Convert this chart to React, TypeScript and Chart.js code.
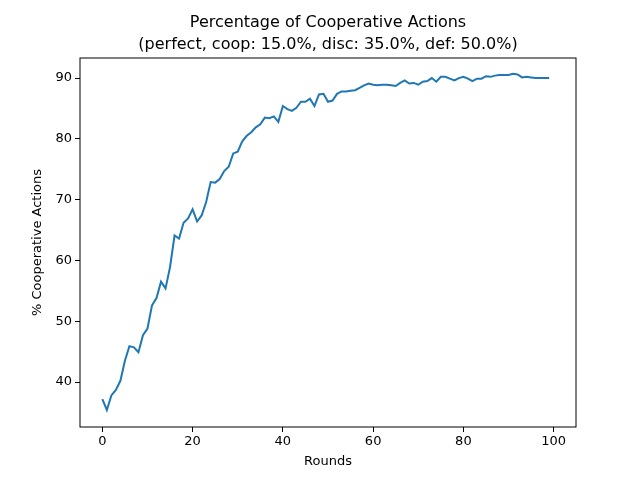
import React, { useEffect, useRef } from "react";
import { Chart, registerables } from "chart.js";
Chart.register(...registerables);

const rounds: number[] = Array.from({ length: 100 }, (_, i) => i);
const coop: number[] = [
  37.2, 35.4, 37.8, 38.7, 40.2, 43.5, 45.9, 45.7, 44.9, 47.7,
  48.8, 52.6, 53.8, 56.5, 55.4, 58.9, 64.1, 63.6, 66.2, 66.9,
  68.4, 66.4, 67.4, 69.6, 72.9, 72.8, 73.4, 74.7, 75.4, 77.6,
  77.9, 79.6, 80.5, 81.1, 81.9, 82.4, 83.5, 83.4, 83.7, 82.8,
  85.4, 84.9, 84.6, 85.1, 86.1, 86.1, 86.6, 85.4, 87.3, 87.4,
  86.1, 86.3, 87.4, 87.8, 87.8, 87.9, 88.0, 88.4, 88.8, 89.1,
  88.9, 88.8, 88.9, 88.9, 88.8, 88.7, 89.2, 89.6, 89.1, 89.2,
  88.9, 89.4, 89.5, 90.0, 89.4, 90.2, 90.2, 89.9, 89.6, 90.0,
  90.2, 89.9, 89.5, 89.9, 89.9, 90.3, 90.2, 90.4, 90.5, 90.5,
  90.5, 90.7, 90.6, 90.1, 90.2, 90.1, 90.0, 90.0, 90.0, 90.0,
];
const xTicks: number[] = [0, 20, 40, 60, 80, 100];
const yTicks: number[] = [40, 50, 60, 70, 80, 90];
const titleLines = ["Percentage of Cooperative Actions", "(perfect, coop: 15.0%, disc: 35.0%, def: 50.0%)"];
const xTitle = "Rounds";
const yTitle = "% Cooperative Actions";

export default function App() {
  const ref = useRef<HTMLCanvasElement>(null);
  useEffect(() => {
    document.body.style.margin = "0";
    const font = "DejaVu Sans";
    const frame = {
      id: "frame",
      afterDraw(c: any) {
        const { ctx, chartArea: a } = c;
        ctx.save();
        ctx.strokeStyle = "#000";
        ctx.lineWidth = 1;
        ctx.strokeRect(a.left, a.top, a.right - a.left, a.bottom - a.top);
        ctx.fillStyle = "#000";
        ctx.font = `16px '${font}'`;
        ctx.textAlign = "center";
        ctx.textBaseline = "alphabetic";
        const cx = (a.left + a.right) / 2;
        ctx.fillText(titleLines[0], cx, 27);
        ctx.fillText(titleLines[1], cx, 49);
        ctx.font = `13px '${font}'`;
        ctx.textBaseline = "middle";
        ctx.fillText(xTitle, cx, 462);
        ctx.translate(38, (a.top + a.bottom) / 2);
        ctx.rotate(-Math.PI / 2);
        ctx.fillText(yTitle, 0, 0);
        ctx.restore();
      },
    };
    const chart = new Chart(ref.current!, {
      type: "line",
      data: {
        labels: rounds,
        datasets: [{ data: coop, borderColor: "#1f77b4", borderWidth: 2, pointRadius: 0, tension: 0 }],
      },
      options: {
        animation: false,
        responsive: false,
        layout: { padding: { top: 58, right: 64, left: 0, bottom: 0 } },
        plugins: { legend: { display: false }, tooltip: { enabled: false } },
        scales: {
          x: {
            type: "linear", min: -4.95, max: 104.95,
            afterFit: (s: any) => { s.height = 53; },
            afterBuildTicks: (s: any) => { s.ticks = xTicks.map((v) => ({ value: v })); },
            ticks: { color: "#000", font: { family: font, size: 13 }, padding: 2, callback: (v: any) => String(v) },
            grid: { drawOnChartArea: false, color: "#000", tickLength: 5 },
            border: { display: false },
          },
          y: {
            min: 32.6, max: 93.3,
            afterFit: (s: any) => { s.width = 80; },
            afterBuildTicks: (s: any) => { s.ticks = yTicks.map((v) => ({ value: v })); },
            ticks: { color: "#000", font: { family: font, size: 13 }, padding: 3, callback: (v: any) => String(v) },
            grid: { drawOnChartArea: false, color: "#000", tickLength: 5 },
            border: { display: false },
          },
        },
      },
      plugins: [frame],
    } as any);
    return () => chart.destroy();
  }, []);
  return <canvas ref={ref} width={640} height={480} style={{ display: "block" }} />;
}
